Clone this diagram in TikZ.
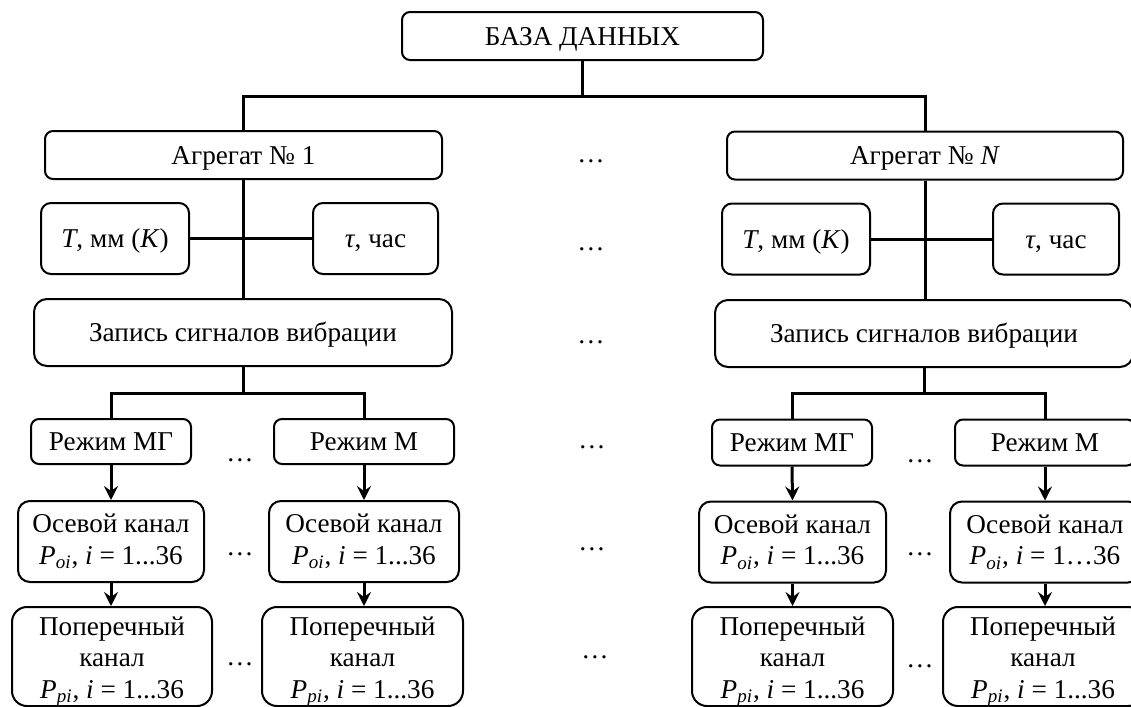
\documentclass[tikz,border=0pt]{standalone}
\usepackage{fontspec}
\setmainfont{Liberation Serif}
\usetikzlibrary{arrows.meta}
\newcommand\myfs{\fontsize{13.6}{15.8}\selectfont}
\newcommand\Poi{\textit{P}\textsubscript{\textit{oi}}, \textit{i} = 1...36}
\newcommand\Ppi{\textit{P}\textsubscript{\textit{pi}}, \textit{i} = 1...36}
\tikzset{
  box/.style={draw, line width=1pt, rounded corners=4pt, inner sep=0pt, align=center, font=\myfs},
  sline/.style={box, text height=11pt, text depth=2pt},
  txt/.style={inner sep=0pt, align=center, font=\myfs},
  conn/.style={line width=1.5pt},
  arr/.style={line width=1.5pt, -{Stealth[length=7pt,width=7pt,inset=2.5pt]}},
  dotsn/.style={inner sep=0pt, anchor=base, font=\myfs},
}
\begin{document}
\begin{tikzpicture}[x=0.5pt,y=-0.5pt]
\useasboundingbox (0,0) rectangle (1131,707);
\clip (0,0) rectangle (1131,707);
% top
\node[sline, minimum width=180.5pt, minimum height=24pt] (db) at (582.5,36) {БАЗА ДАННЫХ};
\node[sline, minimum width=198.5pt, minimum height=24pt] (ag1) at (243.5,155) {Агрегат № 1};
\node[sline, minimum width=198pt, minimum height=24pt] (agN) at (925,155.5) {Агрегат № \textit{N}};
% parameters
\node[sline, rounded corners=5pt, minimum width=74pt, minimum height=35.5pt] (T1) at (115,238.5) {\textit{T}, мм (\textit{K})};
\node[sline, rounded corners=5pt, minimum width=62.5pt, minimum height=35.5pt] (tau1) at (375.5,238.5) {\textit{τ}, час};
\node[sline, rounded corners=5pt, minimum width=74pt, minimum height=35.5pt] (TN) at (796,239) {\textit{T}, мм (\textit{K})};
\node[sline, rounded corners=5pt, minimum width=63pt, minimum height=35.5pt] (tauN) at (1056,239) {\textit{τ}, час};
% record
\node[sline, rounded corners=6.5pt, minimum width=209pt, minimum height=33.5pt] (zap1) at (243,332.5) {Запись сигналов вибрации};
\node[sline, rounded corners=6.5pt, minimum width=209pt, minimum height=33.5pt] (zapN) at (924,333.5) {Запись сигналов вибрации};
% modes
\node[sline, minimum width=80pt, minimum height=22.5pt] (rmg1) at (111,441.5) {Режим МГ};
\node[sline, minimum width=90pt, minimum height=22.5pt] (rm1) at (364,441.5) {Режим М};
\node[sline, minimum width=80pt, minimum height=23pt] (rmgN) at (792,442.5) {Режим МГ};
\node[sline, minimum width=90pt, minimum height=23pt] (rmN) at (1045,442.5) {Режим М};
% axial
\node[box, rounded corners=6pt, minimum width=93pt, minimum height=40.5pt] (os1) at (111,541.5) {Осевой канал\\\Poi};
\node[box, rounded corners=6pt, minimum width=95pt, minimum height=40.5pt] (os2) at (364,541.5) {Осевой канал\\\Poi};
\node[box, rounded corners=6pt, minimum width=93.5pt, minimum height=40.5pt] (osN1) at (792.5,542) {Осевой канал\\\Poi};
\node[box, rounded corners=6pt, minimum width=95pt, minimum height=40.5pt] (osN2) at (1045,542) {Осевой канал\\\textit{P}\textsubscript{\textit{oi}}, \textit{i} = 1…36};
% transverse (boxes and their texts)
\node[box, rounded corners=7.5pt, minimum width=100pt, minimum height=49.5pt] (pop1) at (112,656.5) {};
\node[box, rounded corners=7.5pt, minimum width=100.5pt, minimum height=49.5pt] (pop2) at (362.5,656.5) {};
\node[box, rounded corners=7.5pt, minimum width=100.5pt, minimum height=49.5pt] (popN1) at (792.5,656.5) {};
\node[box, rounded corners=7.5pt, minimum width=100pt, minimum height=49.5pt] (popN2) at (1043,656.5) {};
\node[txt] (pop1t) at ([yshift=-2.5pt]pop1.center) {Поперечный\\канал\\\Ppi};
\node[txt] (pop2t) at ([yshift=-2.5pt]pop2.center) {Поперечный\\канал\\\Ppi};
\node[txt] (popN1t) at ([yshift=-2.5pt]popN1.center) {Поперечный\\канал\\\Ppi};
\node[txt] (popN2t) at ([yshift=-2.5pt]popN2.center) {Поперечный\\канал\\\Ppi};
% connectors
\coordinate (b1) at (582.5,96);
\draw[conn] (db.south) -- (b1);
\draw[conn] (ag1.north) |- (b1) -| (agN.north);
\draw[conn] (ag1.south) -- (ag1.south |- zap1.north);
\draw[conn] (agN.south) -- (agN.south |- zapN.north);
\draw[conn] (T1.east) -- (tau1.west);
\draw[conn] (TN.east) -- (tauN.west);
\coordinate (b2) at (243,393);
\coordinate (b3) at (924,393);
\draw[conn] (zap1.south) -- (b2);
\draw[conn] (rmg1.north) |- (b2) -| (rm1.north);
\draw[conn] (zapN.south) -- (b3);
\draw[conn] (rmgN.north) |- (b3) -| (rmN.north);
\draw[arr] (rmg1.south) -- (os1.north);
\draw[arr] (rm1.south) -- (os2.north);
\draw[arr] (rmgN.south) -- (osN1.north);
\draw[arr] (rmN.south) -- (osN2.north);
\draw[arr] (os1.south) -- (os1.south |- pop1.north);
\draw[arr] (os2.south) -- (os2.south |- pop2.north);
\draw[arr] (osN1.south) -- (osN1.south |- popN1.north);
\draw[arr] (osN2.south) -- (osN2.south |- popN2.north);
% dots
\node[dotsn] (dm1) at (591,162) {…};
\node[dotsn] (dm2) at (591,250) {…};
\node[dotsn] (dm3) at (591,343) {…};
\node[dotsn] (dm4) at (592,448) {…};
\node[dotsn] (dm5) at (592,550) {…};
\node[dotsn] (dm6) at (595,658) {…};
\node[dotsn] (dl1) at (240,461) {…};
\node[dotsn] (dl2) at (240,555) {…};
\node[dotsn] (dl3) at (240,665) {…};
\node[dotsn] (dr1) at (920,462) {…};
\node[dotsn] (dr2) at (920,555) {…};
\node[dotsn] (dr3) at (920,667) {…};
\end{tikzpicture}
\end{document}
